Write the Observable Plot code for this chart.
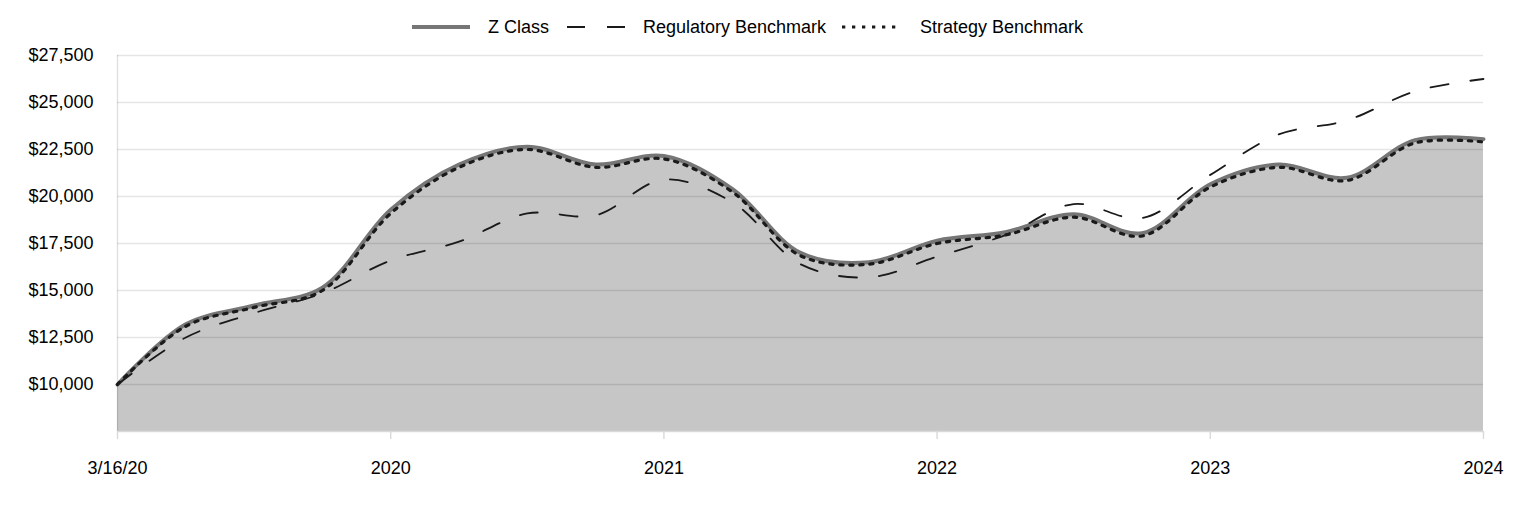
<!DOCTYPE html>
<html>
<head>
<meta charset="utf-8">
<script src="https://cdn.jsdelivr.net/npm/d3@7"></script>
<script src="https://cdn.jsdelivr.net/npm/@observablehq/plot@0.6"></script>
<style>
  html, body { margin: 0; padding: 0; background: white; }
  body { width: 1524px; height: 516px; overflow: hidden; font-family: "Liberation Sans", Arial, sans-serif; }
  #legend { height: 44px; position: relative; font-size: 18px; color: #000; }
  .item { position: absolute; top: 17px; height: 20px; display: flex; align-items: center; }
  .item svg { display: block; }
  .item span { margin-left: 18px; white-space: nowrap; line-height: 20px; }
</style>
</head>
<body>
<div id="legend"></div>
<div id="chart"></div>
<script>
// ---- data (quarterly, growth of $10,000) ----
const quarters = [0, 1, 2, 3, 4, 5, 6, 7, 8, 9, 10, 11, 12, 13, 14, 15, 16, 17, 18, 19, 20];
const zClass = [10000, 13200, 14200, 15150, 19300, 21700, 22650, 21700, 22150, 20400, 17000, 16500, 17650, 18100, 19050, 18050, 20650, 21700, 21000, 23000, 23050];
const regulatory = [10000, 12500, 13800, 14850, 16600, 17600, 19100, 19000, 20900, 19700, 16400, 15700, 16800, 17950, 19600, 18850, 21150, 23300, 24050, 25600, 26250];
const strategy = [10000, 13100, 14100, 15000, 19100, 21550, 22500, 21550, 22000, 20250, 16850, 16400, 17500, 17950, 18900, 17900, 20500, 21550, 20850, 22850, 22900];

const xTicks = [0, 4, 8, 12, 16, 20];
const xLabels = ["3/16/20", "2020", "2021", "2022", "2023", "2024"];
const yTicks = [10000, 12500, 15000, 17500, 20000, 22500, 25000, 27500];
const seriesNames = ["Z Class", "Regulatory Benchmark", "Strategy Benchmark"];

const rows = quarters.map((q, i) => ({q, z: zClass[i], reg: regulatory[i], strat: strategy[i]}));

// ---- legend ----
const legend = document.getElementById("legend");
const legendItems = [
  {name: seriesNames[0], left: 412, stroke: "#767676", width: 4, dash: null},
  {name: seriesNames[1], left: 567, stroke: "#1a1a1a", width: 1.8, dash: "18,22"},
  {name: seriesNames[2], left: 842, stroke: "#1a1a1a", width: 3.2, dash: "3.3,6.7"}
];
legendItems.forEach((it, k) => {
  const div = document.createElement("div");
  div.className = "item";
  div.style.left = it.left + "px";
  const ns = "http://www.w3.org/2000/svg";
  const s = document.createElementNS(ns, "svg");
  s.setAttribute("width", 58); s.setAttribute("height", 20);
  const l = document.createElementNS(ns, "line");
  l.setAttribute("x1", 0); l.setAttribute("x2", 58);
  l.setAttribute("y1", 10); l.setAttribute("y2", 10);
  l.setAttribute("stroke", it.stroke); l.setAttribute("stroke-width", it.width);
  if (it.dash) l.setAttribute("stroke-dasharray", it.dash);
  s.appendChild(l);
  div.appendChild(s);
  const sp = document.createElement("span");
  sp.textContent = it.name;
  if (k === 2) sp.style.marginLeft = "20px";
  div.appendChild(sp);
  legend.appendChild(div);
});

// ---- chart ----
const chart = Plot.plot({
  width: 1524,
  height: 472,
  marginLeft: 117,
  marginRight: 41,
  marginTop: 11,
  marginBottom: 85,
  style: {fontSize: "18px", fontFamily: "Liberation Sans, Arial, sans-serif", color: "black", background: "white", overflow: "visible"},
  x: {domain: [0, 20]},
  y: {domain: [7500, 27500]},
  marks: [
    Plot.areaY(rows, {x: "q", y1: 7500, y2: "z", curve: "catmull-rom", fill: "#c6c6c6"}),
    Plot.ruleY(yTicks, {stroke: "black", strokeOpacity: 0.1, strokeWidth: 1.4}),
    Plot.ruleX([0], {y1: 7500, y2: 27500, stroke: "black", strokeOpacity: 0.12, strokeWidth: 1.4}),
    Plot.ruleY([7500], {stroke: "#d9d9d9", strokeWidth: 1.4}),
    Plot.axisX({ticks: xTicks, tickSize: 8, tickPadding: 22, stroke: "#d9d9d9", fill: "black", strokeWidth: 1.4,
      tickFormat: d => xLabels[xTicks.indexOf(d)], label: null}),
    Plot.axisY({ticks: yTicks, tickSize: 0, tickPadding: 24, fill: "black",
      tickFormat: d => "$" + d3.format(",")(d), label: null}),
    Plot.lineY(rows, {x: "q", y: "z", curve: "catmull-rom", stroke: "#767676", strokeWidth: 4}),
    Plot.lineY(rows, {x: "q", y: "reg", curve: "catmull-rom", stroke: "#1a1a1a", strokeWidth: 1.8, strokeDasharray: "18,22"}),
    Plot.lineY(rows, {x: "q", y: "strat", curve: "catmull-rom", stroke: "#1a1a1a", strokeWidth: 3.2, strokeDasharray: "3.3,6.7"})
  ]
});
document.getElementById("chart").appendChild(chart);
</script>
</body>
</html>
